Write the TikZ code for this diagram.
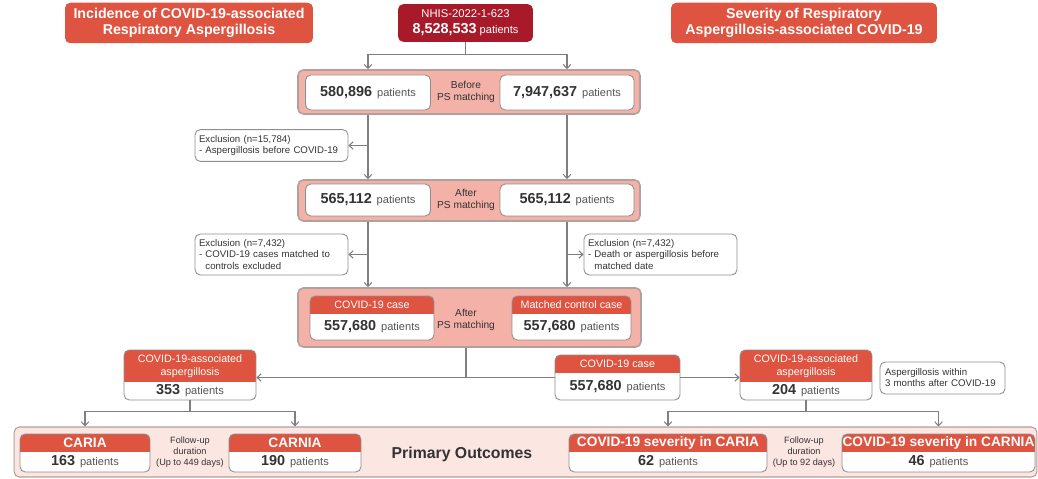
\documentclass[tikz,border=0pt]{standalone}
\usepackage{fontspec}
\setmainfont{Liberation Sans}
\usepackage{xcolor}
\usetikzlibrary{arrows.meta, positioning}

\definecolor{hdrred}{HTML}{DF5440}
\definecolor{nhisred}{HTML}{A81A2A}
\definecolor{panelfill}{HTML}{F4B1A8}
\definecolor{paneledge}{HTML}{B0A09E}
\definecolor{outfill}{HTML}{FCE6E2}
\definecolor{boxedge}{HTML}{8F8F8F}
\definecolor{wirecol}{HTML}{7F7F7F}
\definecolor{numtxt}{HTML}{333333}
\definecolor{txtgray}{HTML}{555555}

\newcommand{\pts}[1]{{\fontsize{8.2}{9}\selectfont\bfseries\color{numtxt}#1}~{\fontsize{6.3}{7}\selectfont\color{txtgray}patients}}

\begin{document}
\begin{tikzpicture}[
  x=0.02cm, y=-0.02cm,
  headline/.style = {rectangle, rounded corners=3pt, fill=hdrred, text=white,
                     align=center, font=\fontsize{8.1}{8.8}\selectfont\bfseries,
                     minimum height=0.68cm},
  panel/.style    = {rectangle, rounded corners=3pt, fill=panelfill,
                     draw=paneledge, line width=0.9pt},
  wbox/.style     = {rectangle, rounded corners=3pt, fill=white, draw=boxedge,
                     line width=0.5pt, minimum height=0.7cm},
  hbox/.style     = {wbox, path picture={\fill[hdrred, sharp corners]
                     (path picture bounding box.north west) rectangle
                     ([yshift=-#1]path picture bounding box.north east);}},
  exbox/.style    = {rectangle, rounded corners=3pt, fill=white, draw=boxedge,
                     line width=0.5pt, align=left, text width=2.9cm,
                     inner xsep=0.08cm, font=\fontsize{5.5}{6.3}\selectfont,
                     text=numtxt},
  midtxt/.style   = {align=center, font=\fontsize{5.8}{7.2}\selectfont, text=numtxt},
  hdrtxt/.style   = {align=center, text=white, font=\fontsize{6.1}{7.2}\selectfont},
  bighdr/.style   = {text=white, font=\fontsize{7.8}{9}\selectfont\bfseries},
  futxt/.style    = {align=center, text=numtxt, font=\fontsize{5.2}{6.2}\selectfont},
  link/.style     = {draw=wirecol, line width=0.6pt},
  linkarr/.style  = {link, -{Straight Barb[length=0.8mm, width=1.5mm]}}
]
\useasboundingbox (0,0) rectangle (1038,479);

% ---------- titles ----------
\node[headline, minimum width=4.96cm] (incid) at (189,23)
  {Incidence of COVID-19-associated\\Respiratory Aspergillosis};
\node[headline, fill=nhisred, minimum width=2.7cm,
      font=\fontsize{6.4}{9}\selectfont] (nhis) at (465.5,23)
  {NHIS-2022-1-623\\{\fontsize{8.2}{9}\selectfont\bfseries 8,528,533}~{\fontsize{6.3}{7}\selectfont patients}};
\node[headline, minimum width=5.32cm] (sever) at (804,23)
  {Severity of Respiratory\\Aspergillosis-associated COVID-19};

% ---------- before PS matching ----------
\node[panel, minimum width=6.84cm, minimum height=0.88cm] (p1) at (469,92) {};
\node[wbox, minimum width=2.5cm]  (b1L) at (368,92.5) {\pts{580,896}};
\node[wbox, minimum width=2.68cm] (b1R) at (567,92.5) {\pts{7,947,637}};
\node[midtxt] (m1) at (466,92) {Before\\PS matching};

\draw[link] (nhis.south) -- ++(0,12) coordinate (j0);
\foreach \b in {b1L, b1R}
  \draw[linkarr] (j0) -| (\b.north |- p1.north);

% ---------- after PS matching ----------
\node[panel, minimum width=6.84cm, minimum height=0.82cm] (p2) at (469,200.5) {};
\node[wbox, minimum width=2.5cm,  minimum height=0.64cm] (b2L) at (368,200) {\pts{565,112}};
\node[wbox, minimum width=2.68cm, minimum height=0.64cm] (b2R) at (567,200) {\pts{565,112}};
\node[midtxt] (m2) at (466,200) {After\\PS matching};

\node[exbox, minimum height=0.54cm] (ex1) at (271.5,145.5)
  {Exclusion (n=15,784)\\- Aspergillosis before COVID-19};

\foreach \b in {b1L, b1R}
  \draw[linkarr] (\b.south |- p1.south) -- (\b.south |- p2.north);
\draw[linkarr] (ex1.east -| b1L.south) -- (ex1.east);

% ---------- matched cohort ----------
\node[panel, minimum width=6.86cm, minimum height=1.18cm] (p3) at (469.5,317.5) {};
\node[hbox=0.36cm, minimum width=2.48cm, minimum height=0.88cm] (c3L) at (372,318) {};
\node[hbox=0.36cm, minimum width=2.38cm, minimum height=0.88cm] (c3R) at (571.5,318) {};
\node[hdrtxt] (c3Lh) at (372,305) {COVID-19 case};
\node (c3Ln) at (372,327) {\pts{557,680}};
\node[hdrtxt] (c3Rh) at (571.5,305) {Matched control case};
\node (c3Rn) at (571.5,327) {\pts{557,680}};
\node[midtxt] (m3) at (466,320) {After\\PS matching};

\node[exbox, minimum height=0.74cm] (ex2L) at (271.5,254.5)
  {Exclusion (n=7,432)\\- COVID-19 cases matched to\\\phantom{- }controls excluded};
\node[exbox, minimum height=0.74cm] (ex2R) at (660.5,254.5)
  {Exclusion (n=7,432)\\- Death or aspergillosis before\\\phantom{- }matched date};

\foreach \b in {b2L, b2R}
  \draw[linkarr] (\b.south |- p2.south) -- (\b.south |- p3.north);
\draw[linkarr] (ex2L.east -| b2L.south) -- (ex2L.east);
\draw[linkarr] (ex2R.west -| b2R.south) -- (ex2R.west);

% ---------- aspergillosis groups ----------
\node[hbox=0.64cm, minimum width=2.64cm, minimum height=1cm]  (asL)   at (190,375) {};
\node[hbox=0.36cm, minimum width=2.5cm,  minimum height=0.9cm] (caseR) at (617.5,377.5) {};
\node[hbox=0.64cm, minimum width=2.64cm, minimum height=1cm]  (asR)   at (806,375) {};
\node[hdrtxt] (asLh) at (190,366) {COVID-19-associated\\aspergillosis};
\node (asLn) at (190,391) {\pts{353}};
\node[hdrtxt] (caseRh) at (617.5,364) {COVID-19 case};
\node (caseRn) at (617.5,387) {\pts{557,680}};
\node[hdrtxt] (asRh) at (806,366) {COVID-19-associated\\aspergillosis};
\node (asRn) at (806,391) {\pts{204}};
\node[exbox, text width=2.3cm, inner xsep=0.1cm, minimum height=0.64cm] (within)
  at (942.5,378) {Aspergillosis within\\3 months after COVID-19};

\draw[link] (m3 |- p3.south) -- (m3 |- caseR.west) coordinate (j3);
\draw[linkarr] (j3) -- (j3 -| asL.east);
\draw[link] (j3) -- (caseR.west);
\draw[linkarr] (caseR.east) -- (caseR.east -| asR.west);

% ---------- primary outcomes ----------
\node[panel, fill=outfill, line width=0.6pt, minimum width=20.46cm,
      minimum height=1cm] (outp) at (525.5,452) {};
\node[hbox=0.36cm, minimum width=2.6cm,  minimum height=0.76cm] (caria)  at (85,453) {};
\node[hbox=0.36cm, minimum width=2.64cm, minimum height=0.76cm] (carnia) at (295,453) {};
\node[hbox=0.36cm, minimum width=3.96cm, minimum height=0.76cm] (sevA)   at (668,453) {};
\node[hbox=0.36cm, minimum width=3.86cm, minimum height=0.76cm] (sevB)   at (938.5,453) {};
\node[bighdr] (cariah)  at (85,443)    {CARIA};
\node         (carian)  at (85,462)    {\pts{163}};
\node[bighdr] (carniah) at (295,443)   {CARNIA};
\node         (carnian) at (295,462)   {\pts{190}};
\node[bighdr] (sevAh)   at (668,443)   {COVID-19 severity in CARIA};
\node         (sevAn)   at (668,462)   {\pts{62}};
\node[bighdr] (sevBh)   at (938.5,443) {COVID-19 severity in CARNIA};
\node         (sevBn)   at (938.5,462) {\pts{46}};
\node[futxt] (fu1) at (190,452) {Follow-up\\duration\\(Up to 449 days)};
\node[futxt] (fu2) at (804,452) {Follow-up\\duration\\(Up to 92 days)};
\node[text=numtxt, font=\fontsize{9}{10}\selectfont\bfseries] (prim) at (462,454)
  {Primary Outcomes};

\draw[link] (asL.south) -- ++(0,11) coordinate (jL);
\foreach \b in {caria, carnia}
  \draw[linkarr] (jL) -| (\b.north |- outp.north);
\draw[link] (asR.south) -- ++(0,11) coordinate (jR);
\foreach \b in {sevA, sevB}
  \draw[linkarr] (jR) -| (\b.north |- outp.north);

\end{tikzpicture}
\end{document}
